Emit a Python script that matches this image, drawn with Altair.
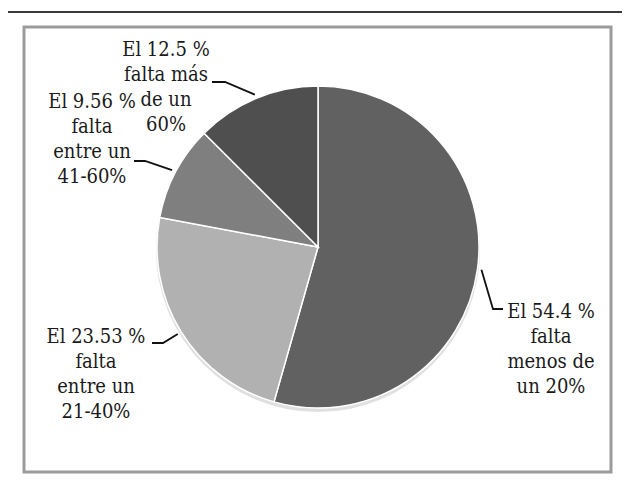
import math
import altair as alt
import pandas as pd

# ---------------- data ----------------
categories = [
    "falta menos de un 20%",
    "falta entre un 21-40%",
    "falta entre un 41-60%",
    "falta más de un 60%",
]
values = [54.4, 23.53, 9.56, 12.5]
value_labels = ["54.4", "23.53", "9.56", "12.5"]
label_tails = [
    ["falta", "menos de", "un 20%"],
    ["falta", "entre un", "21-40%"],
    ["falta", "entre un", "41-60%"],
    ["falta más", "de un", "60%"],
]
colors = ["#616161", "#b1b1b1", "#7f7f7f", "#4f4f4f"]

# ---------------- layout ----------------
W, H = 614, 466
CX, CY, R = 310, 239, 161
label_xy = [(543, 304), (88, 329), (84, 94), (158, 42)]
elbows = [
    [(485, 301), (495, 301)],
    [(155, 335), (144, 335)],
    [(137, 153), (126, 153)],
    [(217, 74), (204, 74)],
]
FONT = "DejaVu Serif Condensed"

# ---------------- tables ----------------
df = pd.DataFrame({"cat": categories, "value": values, "order": list(range(len(values)))})

texts = [f"El {v} %\n" + "\n".join(t) for v, t in zip(value_labels, label_tails)]
lab = pd.DataFrame({
    "text": texts,
    "x": [p[0] for p in label_xy],
    "y": [p[1] for p in label_xy],
})

total = sum(values)
rows = []
cum = 0.0
for i, v in enumerate(values):
    mid = (cum + v / 2) / total * 2 * math.pi
    cum += v
    sx = CX + (R + 4) * math.sin(mid)
    sy = CY - (R + 4) * math.cos(mid)
    pts = [(sx, sy)] + elbows[i]
    for j, (px, py) in enumerate(pts):
        rows.append({"id": i, "seq": j, "x": px, "y": py})
leaders = pd.DataFrame(rows)

one = pd.DataFrame({"a": [0]})

# ---------------- layers ----------------
top_rule = alt.Chart(one).mark_rule(color="#3a3a3a", strokeWidth=2).encode(
    x=alt.value(0), x2=alt.value(W), y=alt.value(4)
)

box = alt.Chart(one).mark_rect(fill="white", stroke="#9b9b9b", strokeWidth=3).encode(
    x=alt.value(16), x2=alt.value(603), y=alt.value(19), y2=alt.value(464)
)

shadow = alt.Chart(one).mark_arc(
    theta=0, theta2=6.2832, outerRadius=R + 1, color="#000000", opacity=0.12
).encode(x=alt.value(CX), y=alt.value(CY + 3))

pie = alt.Chart(df).mark_arc(outerRadius=R, stroke="white", strokeWidth=1.5).encode(
    theta=alt.Theta("value:Q", stack=True),
    order=alt.Order("order:Q"),
    color=alt.Color("cat:N", scale=alt.Scale(domain=categories, range=colors), legend=None),
    x=alt.value(CX),
    y=alt.value(CY),
)

lines = alt.Chart(leaders).mark_line(color="#111111", strokeWidth=1.8).encode(
    x=alt.X("x:Q", scale=None),
    y=alt.Y("y:Q", scale=None),
    detail="id:N",
    order="seq:Q",
)

text = alt.Chart(lab).mark_text(
    font=FONT, fontSize=20, lineHeight=25, lineBreak="\n",
    align="center", baseline="middle", color="#1a1a1a",
).encode(
    x=alt.X("x:Q", scale=None),
    y=alt.Y("y:Q", scale=None),
    text="text:N",
)

chart = alt.layer(top_rule, box, shadow, pie, lines, text).properties(
    width=W, height=H, autosize=alt.AutoSizeParams(type="none"), padding=0,
    background="white",
).configure_view(stroke=None)

chart.save("out.html", embed_options={"renderer": "svg", "actions": False})
